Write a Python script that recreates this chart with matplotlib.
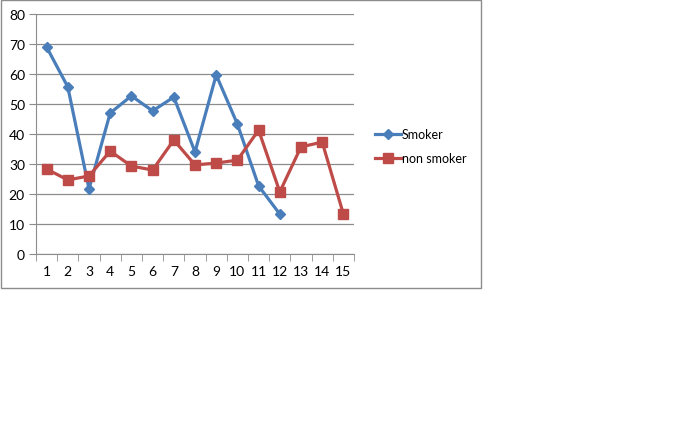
import matplotlib
matplotlib.use("Agg")
import matplotlib.pyplot as plt
from matplotlib.patches import Rectangle
from matplotlib.ticker import MultipleLocator, FixedLocator

# --- Data ---
x_smoker = list(range(1, 13))
smoker = [69, 55.7, 21.7, 47, 52.7, 47.7, 52.3, 34, 59.7, 43.3, 22.7, 13.3]
x_non = list(range(1, 16))
non_smoker = [28.3, 24.7, 26, 34.3, 29.3, 28, 38, 29.7, 30.3, 31.3, 41.3, 20.7, 35.7, 37.3, 13.3]
x_labels = [str(i) for i in range(1, 16)]

W, H = 683, 439
plt.rcParams['font.family'] = ['Lato', 'DejaVu Sans']

fig = plt.figure(figsize=(W / 100, H / 100), dpi=100)
fig.patch.set_facecolor("white")

# --- Chart frame like an Excel chart object ---
fig.add_artist(Rectangle((1 / W, 1 - 289 / H), 480 / W, 288 / H, transform=fig.transFigure,
                         fill=False, edgecolor="#8c8c8c", linewidth=1))

ax = fig.add_axes([36 / W, 1 - 255 / H, (354 - 36) / W, (255 - 15) / H])

blue = "#4A7EBB"
red = "#BE4B48"
ax.plot(x_smoker, smoker, color=blue, linewidth=2.3, marker="D", markersize=5.5, label="Smoker", zorder=3)
ax.plot(x_non, non_smoker, color=red, linewidth=2.3, marker="s", markersize=7, label="non smoker", zorder=3)

ax.set_xlim(0.5, 15.5)
ax.set_ylim(0, 80)
ax.yaxis.set_major_locator(MultipleLocator(10))
ax.grid(axis="y", color="#8c8c8c", linewidth=0.9)
ax.set_axisbelow(True)

ax.set_xticks(x_non)
ax.set_xticklabels(x_labels)
ax.xaxis.set_minor_locator(FixedLocator([i + 0.5 for i in range(0, 16)]))
ax.tick_params(axis="x", which="major", length=0, pad=8, labelsize=10)
ax.tick_params(axis="x", which="minor", length=5, color="#8c8c8c", direction="out")
ax.tick_params(axis="y", length=5, color="#8c8c8c", labelsize=10, pad=3)

for s in ["top", "right"]:
    ax.spines[s].set_visible(False)
for s in ["left", "bottom"]:
    ax.spines[s].set_color("#8c8c8c")

fig.legend(loc="upper left", bbox_to_anchor=(370 / W, 1 - 124 / H), frameon=False,
           fontsize=9, handlelength=2.1, handletextpad=0.05, labelspacing=0.95, borderaxespad=0)

fig.savefig("out.png", dpi=100)
